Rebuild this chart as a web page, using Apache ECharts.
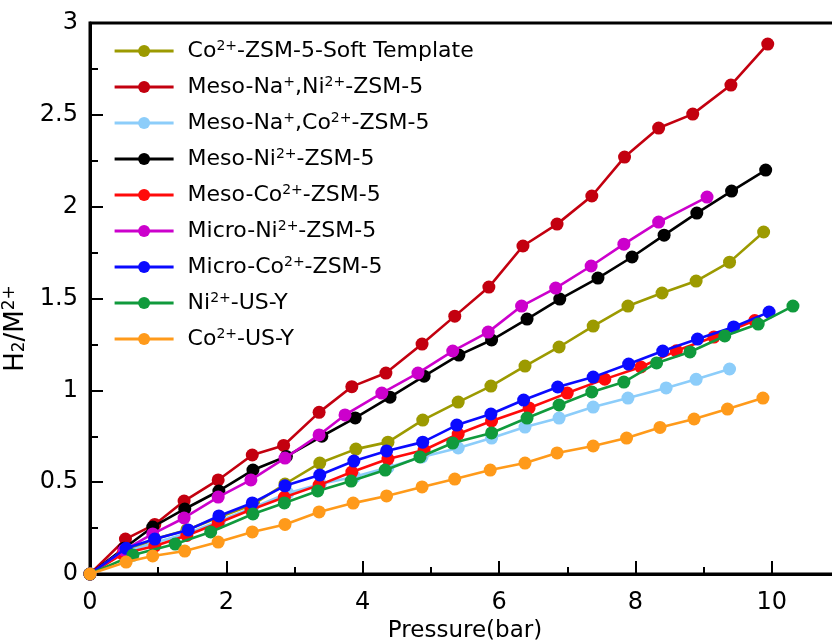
<!DOCTYPE html>
<html>
<head>
<meta charset="utf-8">
<script src="https://cdn.jsdelivr.net/npm/echarts@6/dist/echarts.min.js"></script>
<style>html,body{margin:0;padding:0;background:#fff;}#c{width:832px;height:641px;}</style>
</head>
<body>
<div id="c"></div>
<script>
// Series names (plain) and legend labels (rich)
var names = ['Co2+-ZSM-5-Soft Template','Meso-Na+,Ni2+-ZSM-5','Meso-Na+,Co2+-ZSM-5','Meso-Ni2+-ZSM-5','Meso-Co2+-ZSM-5','Micro-Ni2+-ZSM-5','Micro-Co2+-ZSM-5','Ni2+-US-Y','Co2+-US-Y'];
var labels = ['Co{sup|2+}-ZSM-5-Soft Template','Meso-Na{sup|+},Ni{sup|2+}-ZSM-5','Meso-Na{sup|+},Co{sup|2+}-ZSM-5','Meso-Ni{sup|2+}-ZSM-5','Meso-Co{sup|2+}-ZSM-5','Micro-Ni{sup|2+}-ZSM-5','Micro-Co{sup|2+}-ZSM-5','Ni{sup|2+}-US-Y','Co{sup|2+}-US-Y'];
var colors = ['#9c9a00','#c3000f','#8ccdfa','#000000','#ff0a0a','#cc00cc','#0a0aff','#109a3c','#ff9a1a'];

// x ticks / y ticks
var xTicks = [0,2,4,6,8,10];
var yTicks = [0,0.5,1,1.5,2,2.5,3];

// Co2+-ZSM-5-Soft Template
var pSoft = [0,0.5,0.95,1.42,1.9,2.4,2.86,3.37,3.9,4.37,4.88,5.4,5.88,6.38,6.88,7.38,7.89,8.39,8.89,9.38,9.88];
var hSoft = [0,0.12,0.19,0.24,0.31,0.38,0.49,0.604,0.68,0.718,0.838,0.936,1.023,1.132,1.236,1.35,1.459,1.53,1.595,1.698,1.862];
// Meso-Na+,Ni2+-ZSM-5
var pNaNi = [0,0.52,0.95,1.38,1.88,2.38,2.84,3.36,3.84,4.34,4.87,5.35,5.85,6.35,6.85,7.36,7.84,8.34,8.84,9.4,9.94];
var hNaNi = [0,0.19,0.27,0.397,0.512,0.648,0.70,0.88,1.02,1.094,1.252,1.404,1.562,1.786,1.905,2.058,2.27,2.428,2.504,2.662,2.885];
// Meso-Na+,Co2+-ZSM-5
var pNaCo = [0,0.5,0.95,1.42,1.9,2.38,2.9,3.38,3.88,4.37,4.87,5.4,5.89,6.38,6.88,7.38,7.89,8.45,8.89,9.38];
var hNaCo = [0,0.12,0.17,0.22,0.29,0.36,0.44,0.49,0.53,0.58,0.637,0.686,0.74,0.8,0.849,0.909,0.958,1.013,1.06,1.116];
// Meso-Ni2+-ZSM-5
var pMesoNi = [0,0.5,0.92,1.39,1.89,2.39,2.88,3.4,3.89,4.4,4.9,5.41,5.89,6.41,6.89,7.45,7.95,8.42,8.9,9.41,9.91];
var hMesoNi = [0,0.14,0.256,0.354,0.452,0.566,0.64,0.75,0.85,0.963,1.077,1.192,1.274,1.388,1.497,1.611,1.726,1.845,1.965,2.085,2.199];
// Meso-Co2+-ZSM-5
var pMesoCo = [0,0.48,0.95,1.42,1.88,2.36,2.85,3.36,3.84,4.37,4.9,5.4,5.89,6.44,7.0,7.55,8.08,8.6,9.15,9.75];
var hMesoCo = [0,0.11,0.152,0.21,0.278,0.35,0.418,0.484,0.555,0.626,0.675,0.762,0.833,0.904,0.985,1.061,1.127,1.215,1.29,1.38];
// Micro-Ni2+-ZSM-5
var pMicroNi = [0,0.5,0.92,1.38,1.88,2.36,2.86,3.36,3.74,4.28,4.81,5.32,5.84,6.33,6.83,7.35,7.83,8.34,9.05];
var hMicroNi = [0,0.13,0.218,0.305,0.419,0.512,0.631,0.757,0.866,0.985,1.094,1.214,1.317,1.459,1.557,1.677,1.796,1.916,2.052];
// Micro-Co2+-ZSM-5
var pMicroCo = [0,0.53,0.95,1.44,1.89,2.38,2.86,3.37,3.87,4.35,4.88,5.38,5.88,6.36,6.86,7.38,7.9,8.4,8.91,9.44,9.96];
var hMicroCo = [0,0.14,0.19,0.24,0.316,0.387,0.48,0.539,0.615,0.67,0.718,0.811,0.871,0.947,1.018,1.072,1.143,1.214,1.279,1.345,1.426];
// Ni2+-US-Y
var pNiY = [0,0.63,1.25,1.77,2.39,2.85,3.34,3.83,4.33,4.84,5.32,5.89,6.41,6.88,7.36,7.83,8.31,8.8,9.31,9.8,10.31];
var hNiY = [0,0.103,0.163,0.229,0.327,0.387,0.452,0.506,0.566,0.637,0.713,0.768,0.849,0.92,0.991,1.045,1.149,1.209,1.296,1.361,1.459];
// Co2+-US-Y
var pCoY = [0,0.53,0.92,1.39,1.88,2.38,2.86,3.36,3.86,4.35,4.87,5.35,5.87,6.38,6.85,7.38,7.87,8.36,8.86,9.35,9.87];
var hCoY = [0,0.065,0.098,0.125,0.174,0.229,0.27,0.338,0.386,0.425,0.474,0.517,0.566,0.604,0.659,0.697,0.74,0.798,0.844,0.898,0.958];

var xs = [pSoft,pNaNi,pNaCo,pMesoNi,pMesoCo,pMicroNi,pMicroCo,pNiY,pCoY];
var ys = [hSoft,hNaNi,hNaCo,hMesoNi,hMesoCo,hMicroNi,hMicroCo,hNiY,hCoY];

function zip(a,b){var r=[];for(var i=0;i<a.length;i++)r.push([a[i],b[i]]);return r;}

var FONT = "'DejaVu Sans', 'Liberation Sans', Arial, sans-serif";
var series = names.map(function(n,i){
  return {
    name:n, type:'line', data: zip(xs[i],ys[i]),
    symbol:'circle', symbolSize:13, showSymbol:true,
    lineStyle:{width:2.6,color:colors[i]},
    itemStyle:{color:colors[i]},
    clip:false, animation:false, z: 2+i
  };
});

var chart = echarts.init(document.getElementById('c'), null, {renderer:'canvas'});
chart.setOption({
  animation:false,
  backgroundColor:'#fff',
  color: colors,
  grid:{left:90, right:-8, top:23, bottom:67, containLabel:false, outerBoundsMode:'none',
        show:true, borderColor:'#000', borderWidth:3, backgroundColor:'transparent'},
  legend:{
    orient:'vertical', left:113, top:39, padding:0, itemWidth:59, itemHeight:15, itemGap:13,
    data: names.map(function(n, i){ return {name:n, lineStyle:{width:3.2, color:colors[i]}}; }),
    lineStyle:{width:3.2},
    formatter: function(n){ return labels[names.indexOf(n)]; },
    textStyle:{fontFamily:FONT, fontSize:22, color:'#000', padding:[0,0,0,9],
      rich:{ sup:{fontFamily:FONT, fontSize:14, color:'#000', padding:[0,0,10,0]} } }
  },
  xAxis:{
    type:'value', min:0, max:11, interval:2,
    name:'Pressure(bar)', nameLocation:'middle', nameGap:41,
    nameTextStyle:{fontFamily:FONT, fontSize:23, color:'#000'},
    axisLine:{show:true, lineStyle:{color:'#000', width:3}},
    axisTick:{show:true, inside:true, length:13, lineStyle:{color:'#000', width:2}},
    minorTick:{show:true, splitNumber:2, length:7, lineStyle:{color:'#000', width:2}},
    axisLabel:{fontFamily:FONT, fontSize:24, color:'#000', margin:17, showMaxLabel:false,
      formatter:function(v){ return xTicks.indexOf(v)>=0 ? String(v) : ''; }},
    splitLine:{show:false}
  },
  yAxis:{
    type:'value', min:0, max:3, interval:0.5,
    name:'{n|H}{sub|2}{n|/M}{sup|2+}', nameLocation:'middle', nameGap:46, nameRotate:90,
    nameTextStyle:{fontFamily:FONT, fontSize:26, color:'#000', padding:[0,60,0,0],
      rich:{ n:{fontFamily:FONT, fontSize:26, color:'#000'},
             sub:{fontFamily:FONT, fontSize:17, color:'#000', padding:[0,0,-8,0]},
             sup:{fontFamily:FONT, fontSize:17, color:'#000', padding:[0,0,13,0]} }},
    axisLine:{show:true, lineStyle:{color:'#000', width:3}},
    axisTick:{show:true, inside:true, length:13, lineStyle:{color:'#000', width:2}},
    minorTick:{show:true, splitNumber:2, length:8, lineStyle:{color:'#000', width:2}},
    axisLabel:{fontFamily:FONT, fontSize:24, color:'#000', margin:12,
      formatter:function(v){ return yTicks.indexOf(v)>=0 ? String(v) : ''; }},
    splitLine:{show:false}
  },
  series: series
});
</script>
</body>
</html>
